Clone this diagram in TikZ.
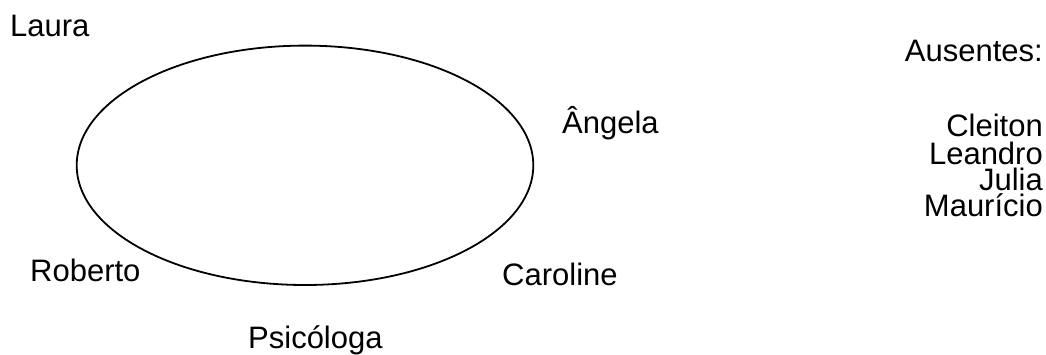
\documentclass[tikz,border=0pt]{standalone}
\usepackage{fontspec}
\setmainfont{Liberation Sans}
\begin{document}
\begin{tikzpicture}[x=1pt,y=1pt,
  lbl/.style={inner sep=0pt, font=\fontsize{31}{36}\selectfont},
  lw/.style={lbl, anchor=base west},
  le/.style={lbl, anchor=base east, text depth=0pt}]
\useasboundingbox (0,0) rectangle (1046,354);
\draw[line width=1.8pt] (305,188.7) ellipse [x radius=228.3, y radius=119.7];
\node[lw] (laura) at (10,317) {Laura};
\node[lw] (angela) at (562,221) {Ângela};
\node[lw] (roberto) at (30,72.3) {Roberto};
\node[lw] (caroline) at (502,69) {Caroline};
\node[lw] (psico) at (248,6) {Psicóloga};
\node[le] (aus) at (1043,292.3) {Ausentes:};
\node[le] (cleiton) at (1043,217.3) {Cleiton};
\node[le] (leandro) at (1043,190) {Leandro};
\node[le] (julia) at (1043,163.3) {Julia};
\node[le] (mauricio) at (1043,137.3) {Maurício};
\end{tikzpicture}
\end{document}
